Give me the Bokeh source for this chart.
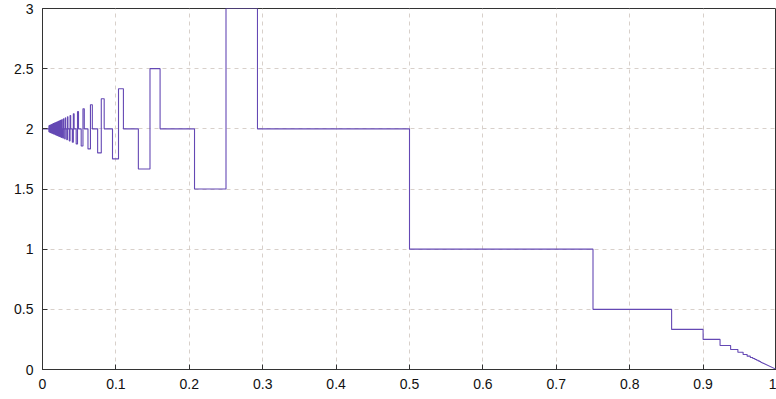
from bokeh.plotting import figure
from bokeh.models import Range1d, FixedTicker
from bokeh.embed import file_html
from bokeh.resources import INLINE

# ---- data ----
# left part: oscillating steps around 2, listed from the origin outwards
dip_start = [0.00869, 0.00890, 0.00913, 0.00938, 0.00963, 0.00990, 0.01019, 0.01049, 0.01081, 0.01115,
             0.01151, 0.01190, 0.01232, 0.01276, 0.01324, 0.01375, 0.01431, 0.01491, 0.01557, 0.01629,
             0.01707, 0.01794, 0.01890, 0.01997, 0.02116, 0.02251, 0.02404, 0.02579, 0.02782, 0.03020,
             0.03302, 0.03642, 0.04061, 0.04587, 0.05271, 0.06195, 0.07511, 0.09537, 0.13060, 0.20711]
spike_start = [0.00875, 0.00897, 0.00920, 0.00945, 0.00971, 0.00998, 0.01027, 0.01058, 0.01091, 0.01125,
               0.01163, 0.01202, 0.01244, 0.01290, 0.01338, 0.01391, 0.01448, 0.01510, 0.01577, 0.01651,
               0.01732, 0.01821, 0.01920, 0.02030, 0.02154, 0.02294, 0.02453, 0.02636, 0.02848, 0.03097,
               0.03395, 0.03756, 0.04202, 0.04769, 0.05512, 0.06530, 0.08009, 0.10355, 0.14645, 0.25000]
spike_end = [0.00879, 0.00902, 0.00925, 0.00950, 0.00976, 0.01004, 0.01034, 0.01065, 0.01098, 0.01133,
             0.01170, 0.01211, 0.01253, 0.01300, 0.01349, 0.01403, 0.01461, 0.01523, 0.01592, 0.01667,
             0.01750, 0.01841, 0.01942, 0.02055, 0.02181, 0.02325, 0.02489, 0.02677, 0.02896, 0.03155,
             0.03464, 0.03840, 0.04308, 0.04906, 0.05696, 0.06790, 0.08404, 0.11024, 0.16019, 0.29289]
dip_value = [1.9756, 1.9750, 1.9744, 1.9737, 1.9730, 1.9722, 1.9714, 1.9706, 1.9697, 1.9688,
             1.9677, 1.9667, 1.9655, 1.9643, 1.9630, 1.9615, 1.9600, 1.9583, 1.9565, 1.9545,
             1.9524, 1.9500, 1.9474, 1.9444, 1.9412, 1.9375, 1.9333, 1.9286, 1.9231, 1.9167,
             1.9091, 1.9000, 1.8889, 1.8750, 1.8571, 1.8333, 1.8000, 1.7500, 1.6667, 1.5000]
spike_value = [2.0250, 2.0256, 2.0263, 2.0270, 2.0278, 2.0286, 2.0294, 2.0303, 2.0313, 2.0323,
               2.0333, 2.0345, 2.0357, 2.0370, 2.0385, 2.0400, 2.0417, 2.0435, 2.0455, 2.0476,
               2.0500, 2.0526, 2.0556, 2.0588, 2.0625, 2.0667, 2.0714, 2.0769, 2.0833, 2.0909,
               2.1000, 2.1111, 2.1250, 2.1429, 2.1667, 2.2000, 2.2500, 2.3333, 2.5000, 3.0000]
base_value = 2.0
start_x = 0.0
# right part: falling staircase
stair_x = [0.5, 0.75, 0.8571, 0.9, 0.9231, 0.9375, 0.9474, 0.9545, 0.96, 0.9643, 0.9677, 0.9706,
           0.9730, 0.9750, 0.9767, 0.9783]
stair_y = [1.0, 0.5, 0.3333, 0.25, 0.2, 0.1667, 0.1429, 0.125, 0.1111, 0.1, 0.0909, 0.0833,
           0.0769, 0.0714, 0.0667, 0.0625]
end_x, end_y = 1.0, 0.0

x_ticks = [0, 0.1, 0.2, 0.3, 0.4, 0.5, 0.6, 0.7, 0.8, 0.9, 1]
x_labels = ["0", "0.1", "0.2", "0.3", "0.4", "0.5", "0.6", "0.7", "0.8", "0.9", "1"]
y_ticks = [0, 0.5, 1, 1.5, 2, 2.5, 3]
y_labels = ["0", "0.5", "1", "1.5", "2", "2.5", "3"]

# ---- build the step polyline ----
xs = [start_x]
ys = [base_value]
for i in range(len(dip_start)):
    xs += [dip_start[i], dip_start[i], spike_start[i], spike_start[i], spike_end[i], spike_end[i]]
    ys += [base_value, dip_value[i], dip_value[i], spike_value[i], spike_value[i], base_value]
prev = base_value
for sx, sy in zip(stair_x, stair_y):
    xs += [sx, sx]
    ys += [prev, sy]
    prev = sy
xs.append(end_x)
ys.append(end_y)

LINE = "#6448b4"
TEXT = "#111111"
FONT = "Liberation Sans"

p = figure(width=776, height=399, output_backend="svg", toolbar_location=None,
           x_range=Range1d(0, 1), y_range=Range1d(0, 3),
           min_border_left=42, min_border_right=0, min_border_top=8, min_border_bottom=30)
p.outline_line_color = "#333333"
p.outline_line_width = 1
p.background_fill_color = "white"
p.border_fill_color = "white"

p.line(xs, ys, line_color=LINE, line_width=1.1)

for ax in (p.xaxis[0], p.yaxis[0]):
    ax.major_tick_in = 5
    ax.major_tick_out = 0
    ax.minor_tick_in = 0
    ax.minor_tick_out = 0
    ax.axis_line_color = "#333333"
    ax.major_tick_line_color = "#333333"
    ax.major_label_text_font = FONT
    ax.major_label_text_font_size = "14px"
    ax.major_label_text_color = TEXT
    ax.major_label_standoff = 9

p.xaxis[0].ticker = FixedTicker(ticks=x_ticks)
p.yaxis[0].ticker = FixedTicker(ticks=y_ticks)
p.xaxis[0].major_label_overrides = {t: l for t, l in zip(x_ticks, x_labels)}
p.yaxis[0].major_label_overrides = {t: l for t, l in zip(y_ticks, y_labels)}

for t in (p.xgrid[0], p.ygrid[0]):
    t.grid_line_color = "#d8d0ca"
    t.grid_line_dash = "4 4"
    t.grid_line_width = 1
p.xgrid[0].ticker = FixedTicker(ticks=x_ticks)
p.ygrid[0].ticker = FixedTicker(ticks=y_ticks)

open("out.html", "w").write(file_html(p, INLINE))
